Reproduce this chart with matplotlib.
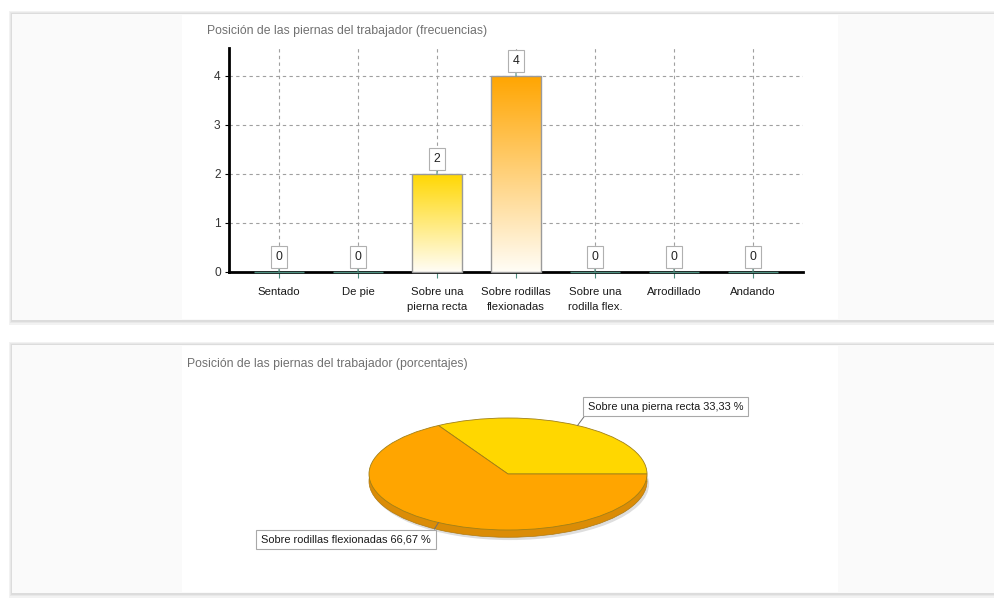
import matplotlib
matplotlib.use('Agg')
import matplotlib.pyplot as plt
import numpy as np
from matplotlib.patches import Rectangle
from matplotlib.colors import LinearSegmentedColormap

# ---------------- data ----------------
bar_title = 'Posición de las piernas del trabajador (frecuencias)'
pie_title = 'Posición de las piernas del trabajador (porcentajes)'
categories = ['Sentado', 'De pie', 'Sobre una\npierna recta', 'Sobre rodillas\nflexionadas',
              'Sobre una\nrodilla flex.', 'Arrodillado', 'Andando']
frequencies = [0, 0, 2, 4, 0, 0, 0]
bar_colors = ['#FFD700', '#FFD700', '#FFD700', '#FFA500', '#FFA500', '#FFA500', '#FFA500']
y_ticks = [0, 1, 2, 3, 4]

pie_labels = ['Sobre una pierna recta', 'Sobre rodillas flexionadas']
pie_values = [2, 4]
pie_colors = ['#FFD700', '#FFA500']
pie_side_colors = ['#D9B200', '#DB8C06']

# ---------------- figure ----------------
W, H = 995, 603
plt.rcParams['font.family'] = ['Liberation Sans', 'DejaVu Sans']
fig = plt.figure(figsize=(W / 100, H / 100), dpi=100)
fig.patch.set_facecolor('white')


def px_axes(x0, y0, x1, y1):
    return fig.add_axes([x0 / W, 1 - y1 / H, (x1 - x0) / W, (y1 - y0) / H])


bg = px_axes(0, 0, W, H)
bg.set_xlim(0, W)
bg.set_ylim(H, 0)
bg.axis('off')
bg.set_zorder(-10)
for (y0, y1) in [(14, 320), (345, 593)]:
    for pad, col in [(3, '#f2f2f2'), (2, '#e8e8e8'), (1, '#dcdcdc')]:
        bg.add_patch(Rectangle((12 - pad, y0 - pad), W + 20, (y1 - y0) + 2 * pad + 0.5 * pad,
                               fc=col, ec='none'))
    bg.add_patch(Rectangle((12, y0), W, y1 - y0, fc='#fafafa', ec='none'))
    bg.add_patch(Rectangle((182, y0 + 1), 656, y1 - y0 - 2, fc='white', ec='none'))

bg.text(207, 31, bar_title, ha='left', va='center', fontsize=8.8, color='#707070')
bg.text(187, 364, pie_title, ha='left', va='center', fontsize=8.8, color='#707070')

# ---------------- bar chart ----------------
ax = px_axes(229, 48, 803, 272)
ax.set_facecolor('none')
x = np.arange(len(categories))
edgecols = ['#4f8f80' if v == 0 else '#9a9a9a' for v in frequencies]
bars = ax.bar(x, frequencies, width=0.63, color='none', edgecolor=edgecols,
              linewidth=1, zorder=3, clip_on=False)
grad = np.linspace(0, 1, 256).reshape(-1, 1)
for b, v, c in zip(bars, frequencies, bar_colors):
    if v > 0:
        cmap = LinearSegmentedColormap.from_list('g', ['#fffdf6', c])
        im = ax.imshow(grad, extent=(b.get_x(), b.get_x() + b.get_width(), 0, v),
                       origin='lower', cmap=cmap, aspect='auto', zorder=2.9)
        im.set_clip_path(b)

ax.set_xlim(-0.633, 6.633)
ax.set_ylim(0, 4.571)
ax.set_xticks(x, categories)
ax.set_yticks(y_ticks)
ax.set_axisbelow(True)
ax.grid(True, linestyle=(0, (3, 3)), color='#a0a0a0', linewidth=0.8)
for s in ['top', 'right']:
    ax.spines[s].set_visible(False)
for s in ['left', 'bottom']:
    ax.spines[s].set_linewidth(2)
    ax.spines[s].set_color('black')
ax.tick_params(axis='x', length=4, color='#4f8f80', pad=6.5, labelcolor='#1a1a1a', labelsize=8.2)
ax.tick_params(axis='y', length=3, color='black', pad=3, labelcolor='#333333', labelsize=8.6)
for t in ax.get_xticklabels():
    t.set_linespacing(1.65)

for xi, v in zip(x, frequencies):
    ax.annotate(str(v), xy=(xi, v), xytext=(0, 11), textcoords='offset points',
                ha='center', va='center', fontsize=8.8, color='#222222',
                bbox=dict(boxstyle='square,pad=0.4', fc='white', ec='#b0b0b0', lw=0.8),
                arrowprops=dict(arrowstyle='-', color='#4f8f80', lw=0.8, shrinkA=0, shrinkB=0),
                zorder=5, annotation_clip=False)

# ---------------- pie chart ----------------
cx, cy, rx, ry = 508, 474, 139, 56
ax2 = px_axes(cx - 1.25 * rx, cy - 1.25 * ry, cx + 1.25 * rx, cy + 1.25 * ry)
depth = 0.13
ax2.pie([1], colors=['#dedede'], center=(0.015, -depth - 0.05), startangle=0,
        wedgeprops=dict(linewidth=0))
ax2.fill_between([-1, 1], [-depth, -depth], [0, 0], color=pie_side_colors[1], lw=0)
ax2.pie(pie_values, colors=pie_side_colors, center=(0, -depth), startangle=0,
        wedgeprops=dict(edgecolor='#b07a10', linewidth=0.5))
ax2.pie(pie_values, colors=pie_colors, startangle=0,
        wedgeprops=dict(edgecolor='#a08018', linewidth=0.6))
ax2.set_aspect('auto')
ax2.set_xlim(-1.25, 1.25)
ax2.set_ylim(-1.25, 1.25)
ax2.axis('off')

total = sum(pie_values)
cum = 0
text_pos = [(0.575, 1.205), (-1.775, -1.17)]
relpos = [(0.0, 0.0), (1.0, 1.0)]
for lab, v, tp, rp in zip(pie_labels, pie_values, text_pos, relpos):
    mid = np.deg2rad(360 * (cum + v / 2) / total)
    cum += v
    pct = f'{100 * v / total:.2f}'.replace('.', ',')
    ax2.annotate(f'{lab} {pct} %', xy=(np.cos(mid), np.sin(mid)), xytext=tp,
                 ha='left', va='center', fontsize=7.9, color='#1a1a1a',
                 bbox=dict(boxstyle='square,pad=0.45', fc='white', ec='#a8a8a8', lw=0.8),
                 arrowprops=dict(arrowstyle='-', color='#707070', lw=0.7, shrinkA=0, shrinkB=0,
                                 relpos=rp),
                 annotation_clip=False, zorder=6)

fig.savefig('out.png', dpi=100, facecolor=fig.get_facecolor())
